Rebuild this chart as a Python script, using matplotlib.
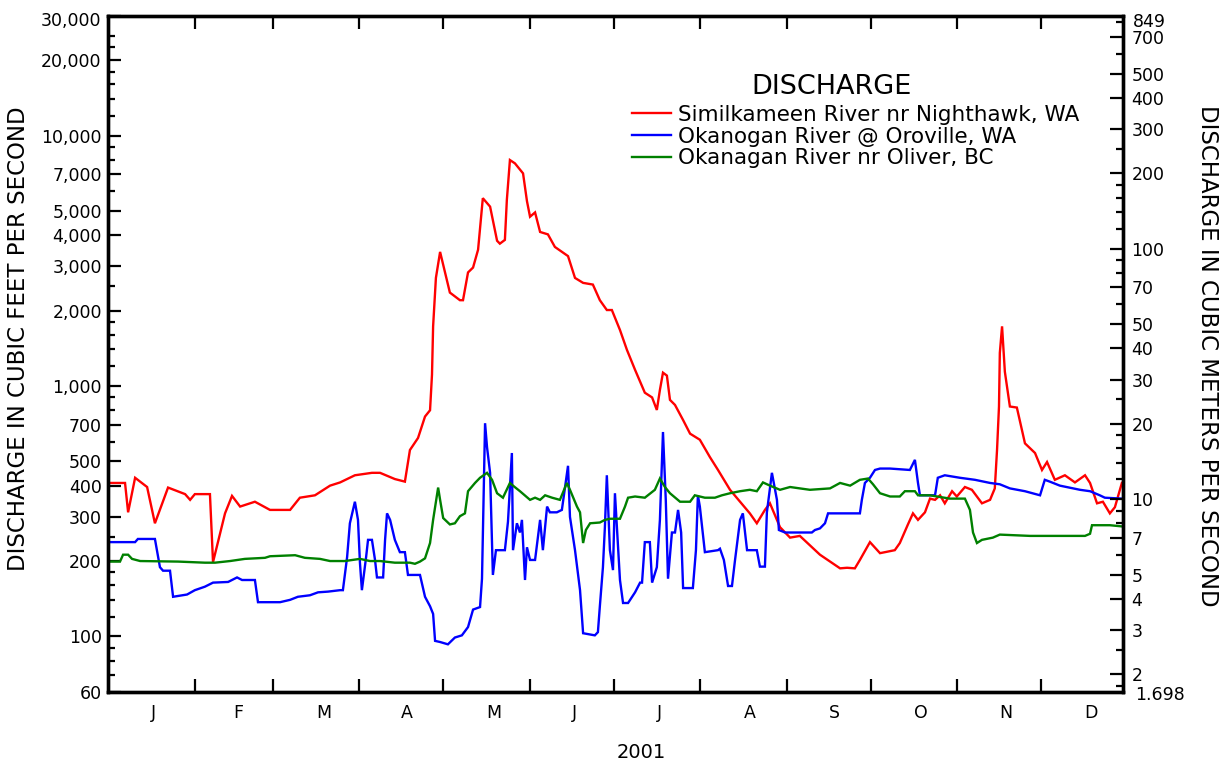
import matplotlib
matplotlib.use('Agg')
import matplotlib.pyplot as plt
from matplotlib.ticker import FixedLocator, FixedFormatter, NullFormatter

# ---------------- data (day of year 2001, discharge in cfs) ----------------
sim_day = [0.0, 6.1, 7.2, 9.7, 14.0, 16.8, 21.5, 27.6, 29.4, 31.1, 36.5, 37.6, 41.9, 44.4, 47.3,
           52.6, 58.0, 65.2, 68.7, 74.1, 79.5, 83.1, 88.4, 94.5, 97.4, 102.7, 106.3, 108.1, 111.0,
           113.5, 115.3, 116.0, 116.4, 117.4, 118.9, 122.4, 126.0, 127.1, 128.9, 130.7, 132.5,
           134.2, 136.8, 139.3, 140.3, 142.1, 142.8, 143.9, 145.7, 148.6, 150.0, 151.1, 152.9,
           154.7, 157.5, 160.0, 164.7, 167.2, 170.1, 173.6, 176.1, 178.6, 180.4, 183.3, 185.8,
           188.7, 192.2, 194.8, 196.5, 197.6, 198.7, 200.1, 201.2, 203.0, 205.9, 208.4, 211.9,
           215.5, 218.4, 222.7, 226.3, 229.8, 232.3, 235.2, 237.0, 240.6, 244.2, 247.7, 254.9,
           258.5, 262.1, 264.6, 267.4, 269.2, 272.8, 276.4, 281.7, 283.5, 286.4, 288.2, 290.0,
           292.5, 294.3, 296.1, 297.9, 299.6, 302.2, 303.9, 306.8, 309.3, 312.9, 315.8, 317.5,
           318.3, 319.0, 319.3, 320.1, 321.1, 322.9, 325.4, 328.3, 331.9, 334.4, 336.2, 339.0,
           342.6, 346.2, 349.8, 351.6, 354.1, 356.2, 358.7, 360.5, 363.0]
sim_cfs = [410, 410, 313, 430, 395, 283, 393, 370, 351, 370, 370, 198, 310, 364, 330,
           345, 320, 320, 358, 366, 400, 412, 440, 450, 450, 425, 415, 555, 620,
           755, 800, 1110, 1730, 2700, 3430, 2360, 2200, 2200, 2840, 2970, 3500,
           5620, 5200, 3800, 3700, 3830, 5530, 7980, 7740, 7060, 5470, 4740, 4930,
           4120, 4030, 3590, 3300, 2700, 2580, 2540, 2200, 2010, 2010, 1673, 1393,
           1160, 940, 900, 802, 964, 1130, 1100, 880, 840, 731, 645, 610,
           520, 462, 385, 345, 310, 283, 320, 340, 273, 248, 252, 212,
           199, 187, 188, 187, 202, 238, 215, 221, 236, 280, 310, 292,
           313, 355, 351, 366, 340, 380, 362, 395, 385, 340, 351, 390,
           555, 828, 1355, 1730, 1140, 828, 820, 590, 540, 462, 497, 422,
           440, 412, 440, 410, 340, 345, 310, 328, 410]

oro_day = [0.0, 9.7, 10.7, 16.8, 18.6, 19.7, 22.2, 23.3, 28.3, 31.1, 34.7, 37.6, 43.0, 46.2,
           48.0, 52.6, 53.7, 61.6, 65.2, 68.0, 72.3, 75.2, 78.8, 83.1, 84.1, 85.6, 86.6, 88.4,
           89.5, 90.2, 90.9, 92.4, 93.1, 94.5, 95.6, 96.3, 98.5, 99.2, 99.9, 101.0, 102.7,
           104.5, 106.3, 107.4, 111.7, 113.5, 115.3, 116.4, 117.1, 118.9, 121.7, 124.2, 126.7,
           128.9, 130.7, 133.2, 133.9, 135.0, 135.7, 136.8, 137.8, 138.9, 142.1, 143.2, 144.6,
           145.0, 146.4, 147.5, 148.2, 149.3, 150.0, 151.1, 152.9, 154.7, 155.7, 157.2, 158.2,
           160.7, 162.5, 164.7, 165.4, 167.2, 169.0, 170.1, 174.3, 175.4, 176.1, 177.2, 177.9,
           178.6, 179.7, 180.8, 181.5, 182.2, 183.3, 184.4, 186.2, 188.7, 190.5, 191.2, 192.2,
           194.0, 194.8, 196.5, 197.6, 198.7, 199.7, 200.5, 201.9, 203.0, 204.1, 205.2, 205.9,
           209.4, 210.5, 211.2, 211.9, 213.7, 218.4, 219.1, 220.5, 222.0, 223.4, 224.5, 226.3,
           227.3, 228.8, 232.3, 233.4, 235.2, 235.9, 237.7, 239.5, 240.2, 242.4, 247.7, 252.0,
           253.1, 254.9, 256.7, 257.8, 269.2, 269.9, 271.0, 272.8, 274.6, 276.4, 280.0, 287.1,
           288.9, 290.0, 290.7, 296.1, 297.1, 299.6, 305.0, 310.4, 315.8, 319.3, 322.9, 328.3,
           333.7, 335.4, 337.2, 340.8, 348.0, 351.6, 355.1, 356.9, 363.0]
oro_cfs = [238, 238, 245, 245, 189, 183, 183, 144, 147, 153, 158, 164, 165, 172,
           168, 168, 137, 137, 140, 144, 146, 150, 151, 153, 153, 207, 283, 345,
           292, 197, 153, 207, 243, 243, 202, 172, 172, 243, 310, 292, 243,
           217, 217, 176, 176, 144, 132, 123, 96, 95, 93, 99, 101,
           109, 128, 131, 170, 710, 570, 450, 176, 221, 221, 287, 540,
           221, 283, 260, 292, 168, 227, 202, 202, 292, 221, 330, 313,
           313, 320, 480, 300, 221, 153, 103, 101, 104, 132, 189, 273,
           440, 221, 184, 373, 273, 168, 136, 136, 150, 164, 164, 238,
           238, 164, 189, 292, 655, 351, 170, 260, 260, 320, 260, 156,
           156, 221, 366, 330, 217, 221, 224, 202, 159, 159, 202, 292,
           310, 221, 221, 190, 190, 313, 450, 351, 266, 260, 260, 260,
           266, 270, 283, 310, 310, 351, 410, 430, 462, 468, 468, 462,
           507, 410, 366, 366, 430, 440, 430, 422, 410, 405, 390, 380,
           366, 422, 415, 400, 385, 380, 366, 358, 355]

oli_day = [0.0, 4.3, 5.4, 7.2, 8.6, 11.5, 25.1, 34.7, 38.3, 43.7, 49.0, 56.2, 58.0, 67.0,
           70.5, 75.9, 79.5, 84.8, 90.2, 93.8, 97.4, 102.7, 108.1, 109.9, 111.7, 113.5, 115.3,
           116.4, 118.2, 118.9, 120.0, 122.4, 124.2, 126.0, 127.8, 128.9, 131.4, 133.2, 135.7,
           137.5, 139.3, 141.4, 143.9, 145.0, 147.5, 151.1, 152.9, 154.7, 156.5, 159.0, 161.8,
           164.3, 165.4, 167.9, 169.0, 170.1, 171.1, 172.6, 176.1, 177.9, 179.7, 183.3, 185.1,
           186.2, 188.7, 192.2, 195.8, 197.6, 199.4, 201.2, 204.8, 208.4, 210.1, 213.7, 217.3,
           219.8, 222.7, 226.3, 229.8, 232.3, 234.5, 237.0, 240.6, 244.2, 247.7, 251.3, 258.5,
           262.1, 265.7, 269.2, 272.1, 273.9, 276.4, 280.0, 283.5, 285.3, 288.9, 290.0, 294.3,
           301.4, 306.8, 308.6, 309.7, 311.1, 312.9, 316.8, 319.3, 330.1, 349.8, 351.6, 352.3,
           358.7, 363.0]
oli_cfs = [199, 199, 212, 212, 204, 200, 199, 197, 197, 200, 204, 206, 209, 211,
           206, 204, 200, 200, 204, 200, 200, 197, 197, 195, 199, 205, 236,
           292, 393, 351, 297, 280, 283, 302, 310, 380, 410, 430, 450,
           422, 373, 358, 410, 400, 380, 351, 358, 351, 366, 358, 351,
           410, 385, 330, 313, 236, 266, 283, 285, 292, 295, 295, 330,
           358, 362, 358, 385, 427, 395, 373, 345, 345, 366, 358, 358,
           366, 373, 380, 385, 380, 412, 400, 385, 395, 390, 385, 390,
           410, 400, 422, 427, 405, 373, 362, 362, 380, 380, 366, 366,
           355, 355, 320, 260, 236, 243, 248, 255, 252, 252, 257, 278,
           278, 275]

series_names = ['Similkameen River nr Nighthawk, WA',
                'Okanogan River @ Oroville, WA',
                'Okanagan River nr Oliver, BC']
series_colors = ['#ff0000', '#0000ff', '#008000']

month_labels = ['J', 'F', 'M', 'A', 'M', 'J', 'J', 'A', 'S', 'O', 'N', 'D']
month_lengths = [31, 28, 31, 30, 31, 30, 31, 31, 30, 31, 30, 31]

left_major = [60, 100, 200, 300, 400, 500, 700, 1000, 2000, 3000, 4000, 5000, 7000,
              10000, 20000, 30000]
left_minor = [70, 80, 90, 120, 140, 160, 180, 250, 600, 800, 900, 1200, 1400, 1600, 1800,
              2500, 6000, 8000, 9000, 12000, 14000, 16000, 18000, 22500, 25000]
right_major = [2, 3, 4, 5, 7, 10, 20, 30, 40, 50, 70, 100, 200, 300, 400, 500, 700]
right_minor = [1.8, 2.5, 6, 8, 9, 12, 14, 16, 18, 25, 60, 80, 90, 120, 140, 160, 180,
               250, 600, 800]
CFS_TO_CMS = 0.0283
YMIN, YMAX = 60, 30000
XMAX = 363.4

# ---------------- figure ----------------
plt.rcParams['font.family'] = ['DejaVu Sans']
W, H = 1225, 767
fig = plt.figure(figsize=(W / 100, H / 100), dpi=100)
L, R, T, B = 108, 1123, 16, 692
ax = fig.add_axes([L / W, (H - B) / H, (R - L) / W, (B - T) / H])

lines = []
for d, v, name, c in zip([sim_day, oro_day, oli_day], [sim_cfs, oro_cfs, oli_cfs],
                         series_names, series_colors):
    ln, = ax.plot(d, v, color=c, lw=1.7, label=name, solid_joinstyle='miter')
    lines.append(ln)

ax.set_yscale('log')
ax.set_ylim(YMIN, YMAX)
ax.set_xlim(0, XMAX)

TICK_FS = 12.5

# y ticks (left)
ax.yaxis.set_major_locator(FixedLocator(left_major))
lbls = ['{:,}'.format(v) for v in left_major]
lbls[-1] = ''
ax.yaxis.set_major_formatter(FixedFormatter(lbls))
ax.yaxis.set_minor_locator(FixedLocator(left_minor))
ax.yaxis.set_minor_formatter(NullFormatter())
ax.tick_params(axis='y', which='major', direction='in', length=9.5, width=1.6,
               labelsize=TICK_FS, pad=4.5)
ax.tick_params(axis='y', which='minor', direction='in', length=5, width=1.6)
ax.text(-0.007, (B - 21) / (B - T), '{:,}'.format(YMAX), transform=ax.transAxes, ha='right',
        va='center', fontsize=TICK_FS)

# x ticks: month boundaries, labels at mid-month
bounds = []
mids = []
acc = 0
for n in month_lengths:
    if acc > 0:
        bounds.append(acc)
    mids.append(acc + n / 2)
    acc += n
ax.xaxis.set_major_locator(FixedLocator(bounds))
ax.xaxis.set_major_formatter(NullFormatter())
ax.xaxis.set_minor_locator(FixedLocator(mids))
ax.xaxis.set_minor_formatter(FixedFormatter(month_labels))
ax.tick_params(axis='x', which='major', direction='in', length=9.5, width=1.6,
               top=True, bottom=True)
ax.tick_params(axis='x', which='minor', length=0, labelsize=TICK_FS, pad=9)
for t in ax.get_xticklabels(minor=True):
    t.set_horizontalalignment('left')

ax.set_xlabel('2001', fontsize=14)
ax.xaxis.set_label_coords((641 - L) / (R - L), (B - 753) / (B - T))
ax.xaxis.label.set_va('center')

ax.set_ylabel('DISCHARGE IN CUBIC FEET PER SECOND', fontsize=16.5)
ax.yaxis.set_label_coords((19 - L) / (R - L), (B - 339) / (B - T))
ax.yaxis.label.set_va('center')

# right axis
ax2 = ax.twinx()
ax2.set_yscale('log')
ax2.set_ylim(YMIN * CFS_TO_CMS, YMAX * CFS_TO_CMS)
ax2.yaxis.set_major_locator(FixedLocator(right_major))
ax2.yaxis.set_major_formatter(FixedFormatter([str(v) for v in right_major]))
ax2.yaxis.set_minor_locator(FixedLocator(right_minor))
ax2.yaxis.set_minor_formatter(NullFormatter())
ax2.tick_params(axis='y', which='major', direction='in', length=9.5, width=1.6,
                labelsize=TICK_FS, pad=6)
ax2.tick_params(axis='y', which='minor', direction='in', length=5, width=1.6)
ax2.text((1133 - L) / (R - L), (B - 22) / (B - T), '{:d}'.format(int(round(YMAX * CFS_TO_CMS))),
         transform=ax.transAxes, ha='left', va='center', fontsize=TICK_FS)
ax2.text((1135 - L) / (R - L), (B - 695) / (B - T), '{:.3f}'.format(YMIN * CFS_TO_CMS),
         transform=ax.transAxes, ha='left', va='center', fontsize=TICK_FS)
ax2.set_ylabel('DISCHARGE IN CUBIC METERS PER SECOND', fontsize=16.5, rotation=-90)
ax2.yaxis.set_label_coords((1207 - L) / (R - L), (B - 356) / (B - T))
ax2.yaxis.label.set_va('center')

for a in (ax, ax2):
    for s in a.spines.values():
        s.set_linewidth(2.4)

# legend
ax.text((832 - L) / (R - L), (B - 87) / (B - T), 'DISCHARGE', transform=ax.transAxes,
        ha='center', va='center', fontsize=19.5)
leg = ax.legend(handles=lines, loc='upper left',
                bbox_to_anchor=((632 - L) / (R - L), (B - 105) / (B - T)),
                frameon=False, fontsize=15.5, handlelength=1.8, handletextpad=0.32,
                labelspacing=0.08, borderpad=0, borderaxespad=0)
for h in leg.get_lines():
    h.set_linewidth(1.7)

fig.savefig('out.png', dpi=100)
